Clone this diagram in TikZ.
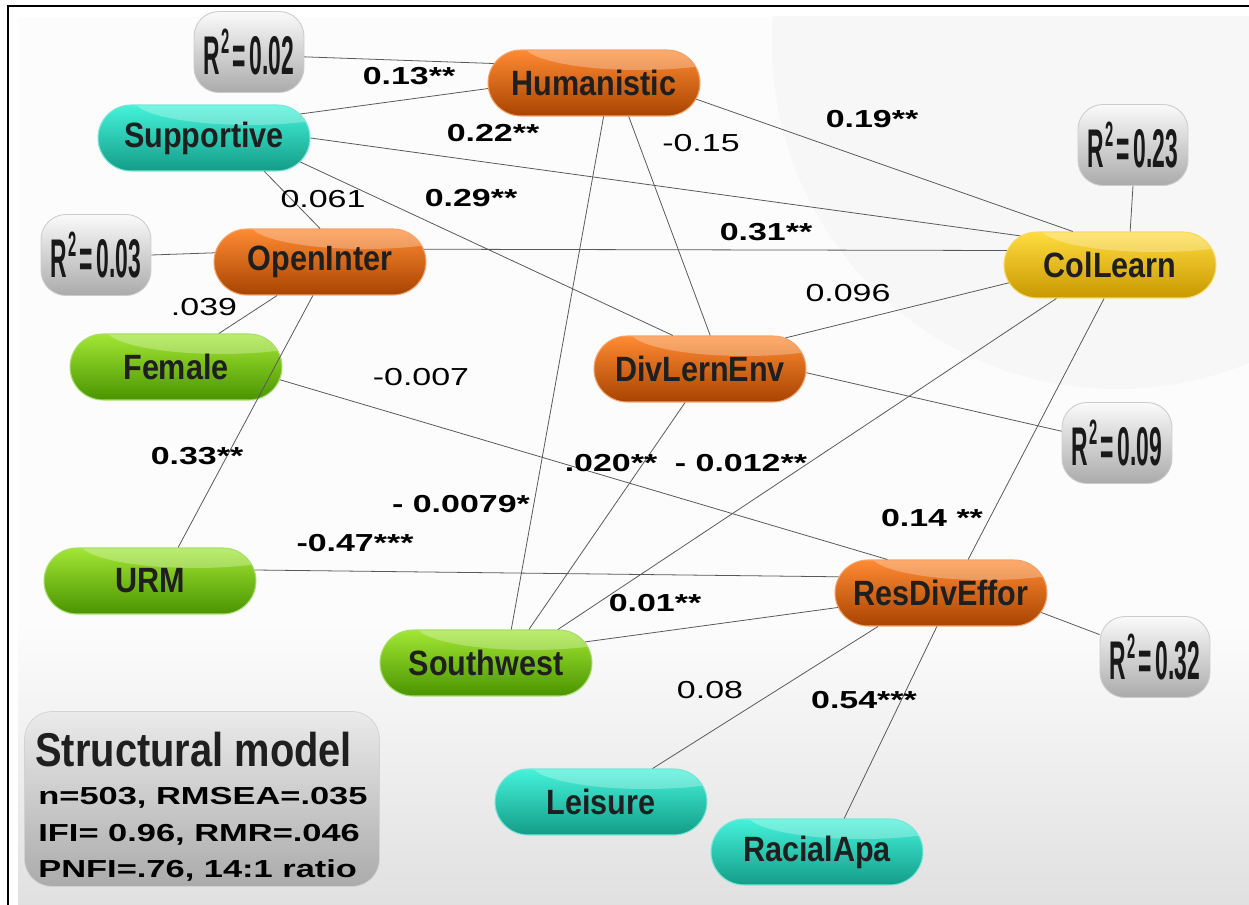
\documentclass[tikz,border=0pt]{standalone}
\usepackage{fontspec}
\newfontfamily\nodefont{Liberation Sans}[FakeStretch=0.87]
\newfontfamily\rsqfont{Liberation Sans}[FakeStretch=0.42]
\newfontfamily\coeffont{Liberation Sans}[FakeStretch=1.38]
\newfontfamily\statfont{Liberation Sans}[FakeStretch=1.4]
\newfontfamily\titlefont{Liberation Sans}[FakeStretch=0.84]
\usepackage{tikz}
\usetikzlibrary{shapes.misc, calc, positioning}
\definecolor{SEMorTop}{HTML}{FF8A33}
\definecolor{SEMorMid}{HTML}{EC6608}
\definecolor{SEMorBot}{HTML}{A84400}
\definecolor{SEMteTop}{HTML}{45F2DA}
\definecolor{SEMteMid}{HTML}{22D6BC}
\definecolor{SEMteBot}{HTML}{139C88}
\definecolor{SEMgrTop}{HTML}{A2E634}
\definecolor{SEMgrMid}{HTML}{6CC80A}
\definecolor{SEMgrBot}{HTML}{4A9400}
\definecolor{SEMyeTop}{HTML}{FFDC40}
\definecolor{SEMyeMid}{HTML}{F2C100}
\definecolor{SEMyeBot}{HTML}{C89800}
\newcommand{\rsqtext}[1]{R\kern0.5pt\raisebox{0.72ex}{\fontsize{20}{20}\selectfont 2}\kern2pt=\kern2pt#1}

\begin{document}
\begin{tikzpicture}[x=0.02cm, y=-0.02cm]
  \tikzset{
    pill/.style={rounded rectangle, minimum width=4.24cm, minimum height=1.32cm,
      inner sep=0pt, line width=0.6pt, text=black!88,
      font=\nodefont\bfseries\fontsize{20}{22}\selectfont,
      path picture={\fill[white, opacity=0.28]
        ([xshift=0.9cm, yshift=0.1cm]path picture bounding box.north) ellipse (2.3cm and 0.5cm);}},
    orpill/.style={pill, top color=SEMorTop, middle color=SEMorMid, bottom color=SEMorBot, draw=SEMorMid!60!white},
    tepill/.style={pill, top color=SEMteTop, middle color=SEMteMid, bottom color=SEMteBot, draw=SEMteMid!60!white},
    grpill/.style={pill, top color=SEMgrTop, middle color=SEMgrMid, bottom color=SEMgrBot, draw=SEMgrMid!60!white},
    yepill/.style={pill, top color=SEMyeTop, middle color=SEMyeMid, bottom color=SEMyeBot, draw=SEMyeMid!60!white},
    rsq/.style={rectangle, rounded corners=0.5cm, minimum width=2.2cm, minimum height=1.62cm,
      inner sep=0pt, top color=gray!4, middle color=gray!18, bottom color=gray!66,
      draw=gray!40, line width=0.5pt, text=black!90,
      font=\rsqfont\bfseries\fontsize{31}{34}\selectfont},
    link/.style={draw=black!65, line width=0.45pt},
    coef/.style={inner sep=1pt, font=\coeffont\fontsize{14}{16}\selectfont},
    coefb/.style={inner sep=1pt, font=\coeffont\bfseries\fontsize{14}{16}\selectfont},
  }

  \useasboundingbox (0,0) rectangle (1249,905);

  % backdrop
  \fill[white] (0,0) rectangle (1249,905);
  \begin{scope}
    \clip (18,17) rectangle (1249,905);
    \fill[gray!2] (18,17) rectangle (1249,905);
    \fill[gray!6] (1117,44) circle [radius=345];
    \shade[top color=gray!2, bottom color=gray!24] (18,620) rectangle (1249,905);
  \end{scope}
  \draw[line width=1.3pt] (8,905) -- (8,6) -- (1249,6);

  % fit box
  \node[rectangle, rounded corners=0.55cm, minimum width=7.1cm, minimum height=3.5cm,
    top color=gray!16, middle color=gray!32, bottom color=gray!66, draw=gray!35] (statbox) at (202,799) {};
  \node[anchor=base west, inner sep=0pt, text=black!88,
    font=\titlefont\bfseries\fontsize{27}{30}\selectfont] (title) at (35,767) {Structural model};
  \node[anchor=base west, inner sep=0pt, font=\statfont\bfseries\fontsize{14}{16}\selectfont] (fit1) at (38,805) {n=503, RMSEA=.035};
  \node[anchor=base west, inner sep=0pt, font=\statfont\bfseries\fontsize{14}{16}\selectfont] (fit2) at (38,842) {IFI= 0.96, RMR=.046};
  \node[anchor=base west, inner sep=0pt, font=\statfont\bfseries\fontsize{14}{16}\selectfont] (fit3) at (38,878) {PNFI=.76, 14:1 ratio};

  % variables
  \node[orpill] (hum)  at (594,83)  {Humanistic};
  \node[tepill] (sup)  at (204,138) {Supportive};
  \node[orpill] (open) at (320,262) {OpenInter};
  \node[yepill] (col)  at (1110,265) {ColLearn};
  \node[grpill] (fem)  at (176,367) {Female};
  \node[orpill] (div)  at (700,369) {DivLernEnv};
  \node[grpill] (urm)  at (150,581) {URM};
  \node[orpill] (res)  at (941,593) {ResDivEffor};
  \node[grpill] (sw)   at (486,663) {Southwest};
  \node[tepill] (leis) at (601,802) {Leisure};
  \node[tepill] (rac)  at (817,852) {RacialApa};

  % explained variance
  \node[rsq] (r02) at (249,52)  {\rsqtext{0.02}};
  \node[rsq] (r03) at (96,255)  {\rsqtext{0.03}};
  \node[rsq] (r23) at (1133,145) {\rsqtext{0.23}};
  \node[rsq] (r09) at (1117,443) {\rsqtext{0.09}};
  \node[rsq] (r32) at (1155,657) {\rsqtext{0.32}};

  % paths
  \draw[link] (r02.-5) -- (hum.169);
  \draw[link] (sup.14) -- (hum.183);
  \draw[link] (sup.east) -- (col.162);
  \draw[link] (sup.-14) -- (div.129);
  \draw[link] (sup.-29) -- (open.north);
  \draw[link] (r03.east) -- (open.175);
  \draw[link] (open.7) -- (col.172);
  \draw[link] (open.218) -- (fem.38);
  \draw[link] (open.258) -- (urm.50);
  \draw[link] (hum.-74) -- (sw.53);
  \draw[link] (hum.-44) -- (div.73);
  \draw[link] (hum.-9) -- (col.138);
  \draw[link] (r23.south) -- (col.59);
  \draw[link] (div.20) -- (col.190);
  \draw[link] (div.-2) -- (r09.168);
  \draw[link] (fem.-7) -- (res.148);
  \draw[link] (urm.6) -- (res.171);
  \draw[link] (sw.38) -- (div.246);
  \draw[link] (sw.25) -- (col.212);
  \draw[link] (sw.12) -- (res.188);
  \draw[link] (res.51) -- (col.260);
  \draw[link] (res.-11) -- (r32.158);
  \draw[link] (leis.33) -- (res.208);
  \draw[link] (rac.51) -- (res.263);

  % coefficients
  \node[coefb] (c13)  at (409,76)  {0.13**};
  \node[coefb] (c22)  at (493,133) {0.22**};
  \node[coefb] (c29)  at (471,198) {0.29**};
  \node[coef]  (c15)  at (701,143) {-0.15};
  \node[coefb] (c19)  at (872,119) {0.19**};
  \node[coefb] (c31)  at (766,232) {0.31**};
  \node[coef]  (c061) at (323,199) {0.061};
  \node[coef]  (c039) at (204,307) {.039};
  \node[coef]  (c096) at (848,293) {0.096};
  \node[coef]  (c007) at (421,377) {-0.007};
  \node[coefb] (c33)  at (197,456) {0.33**};
  \node[coefb] (c0079) at (461,504) {- 0.0079*};
  \node[coefb] (c020) at (611,463) {.020**};
  \node[coefb] (c012) at (741,463) {- 0.012**};
  \node[coefb] (c14)  at (932,518) {0.14 **};
  \node[coefb] (c47)  at (355,543) {-0.47***};
  \node[coefb] (c01)  at (655,603) {0.01**};
  \node[coef]  (c08)  at (710,690) {0.08};
  \node[coefb] (c54)  at (864,700) {0.54***};
\end{tikzpicture}
\end{document}
